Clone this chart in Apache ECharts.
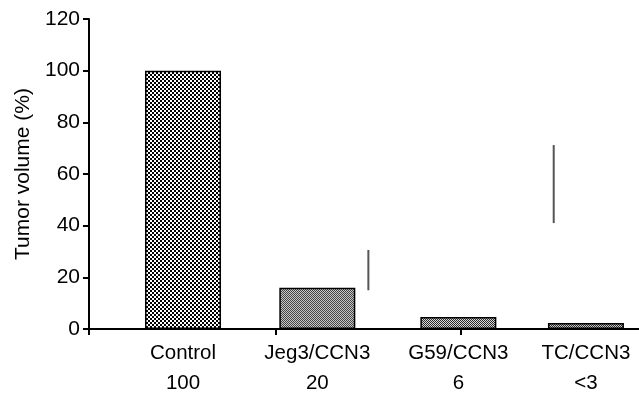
<!DOCTYPE html>
<html>
<head>
<meta charset="utf-8">
<script src="https://cdn.jsdelivr.net/npm/echarts@6/dist/echarts.min.js"></script>
<style>
  html, body { margin: 0; padding: 0; background: #fff; }
  #chart { width: 639px; height: 399px; }
</style>
</head>
<body>
<div id="chart"></div>
<script>
// data
const categories = ['Control', 'Jeg3/CCN3', 'G59/CCN3', 'TC/CCN3']
const volumes = [100, 16, 4.6, 2.3]
const ratioLabels = ['100', '20', '6', '<3']
const barPos = [0.70, 1.70, 2.75, 3.70]
const xTickPos = [0, 1.39, 2.77]
// error lines: [x, low, high]
const errorLines = [[2.08, 15, 30.6], [3.46, 41, 71.2]]

function pattern (cell, dark, light) {
  const c = document.createElement('canvas')
  c.width = c.height = cell * 2
  const ctx = c.getContext('2d')
  ctx.fillStyle = light
  ctx.fillRect(0, 0, c.width, c.height)
  ctx.fillStyle = dark
  ctx.fillRect(0, 0, cell, cell)
  ctx.fillRect(cell, cell, cell, cell)
  return { image: c, repeat: 'repeat' }
}

const fills = [
  pattern(2, '#000', '#fff'),
  pattern(1, '#444', '#c8c8c8'),
  pattern(1, '#2a2a2a', '#d8d8d8'),
  pattern(1, '#2a2a2a', '#cfcfcf')
]

const font = 'Liberation Sans, Arial, sans-serif'
const chart = echarts.init(document.getElementById('chart'))

const series = [{
  type: 'bar',
  barWidth: 76,
  data: volumes.map((v, i) => ({
    value: [barPos[i], v],
    itemStyle: { color: fills[i], borderColor: '#000', borderWidth: 1.5 }
  })),
  silent: true
}]
errorLines.forEach((e) => {
  series.push({
    type: 'line',
    data: [[e[0], e[1]], [e[0], e[2]]],
    symbol: 'none',
    lineStyle: { color: '#555', width: 2 },
    silent: true
  })
})

chart.setOption({
  animation: false,
  grid: { left: 89, right: 0, top: 19, bottom: 70 },
  xAxis: {
    type: 'value',
    min: 0,
    max: 4.095,
    axisLine: { lineStyle: { color: '#000', width: 2 } },
    axisTick: { show: true, customValues: xTickPos, length: 6, lineStyle: { color: '#000', width: 2 } },
    axisLabel: {
      customValues: barPos,
      color: '#000',
      fontFamily: font,
      fontSize: 20.5,
      lineHeight: 30,
      margin: 9,
      formatter: (v) => {
        const i = barPos.findIndex((p) => Math.abs(p - v) < 1e-6)
        return i < 0 ? '' : categories[i] + '\n' + ratioLabels[i]
      }
    },
    splitLine: { show: false }
  },
  yAxis: {
    type: 'value',
    min: 0,
    max: 120,
    interval: 20,
    name: 'Tumor volume (%)',
    nameLocation: 'middle',
    nameGap: 55,
    nameTextStyle: { color: '#000', fontFamily: font, fontSize: 21 },
    axisLine: { show: true, lineStyle: { color: '#000', width: 2 } },
    axisTick: { show: true, length: 6, lineStyle: { color: '#000', width: 2 } },
    axisLabel: { color: '#000', fontFamily: font, fontSize: 21, margin: 9 },
    splitLine: { show: false }
  },
  series: series
})
</script>
</body>
</html>
